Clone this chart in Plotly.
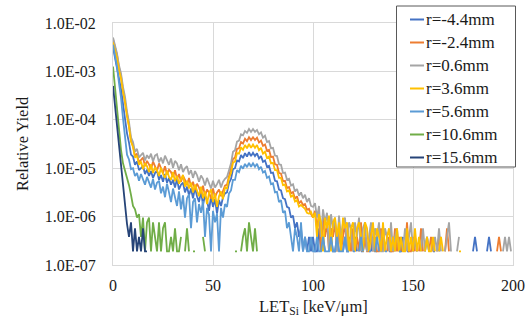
import plotly.graph_objects as go

N = None

# LET_Si [keV/um], one bin per unit
let_si = list(range(0, 201))

# log10(Relative Yield); None = empty bin (no point on log axis)
r_m44_log = [
    -2.50, -2.70, -2.88, -3.15, -3.36, -3.67, -3.92, -4.28, -4.47, -4.72,
    -4.76, -4.93, -4.86, -5.04, -5.00, -4.95, -5.12, -5.03, -5.16, -5.06,
    -5.20, -5.10, -5.05, -5.24, -5.14, -5.28, -5.12, -5.30, -5.20, -5.34,
    -5.24, -5.40, -5.22, -5.44, -5.34, -5.30, -5.50, -5.38, -5.56, -5.42,
    -5.62, -5.40, -5.58, -5.70, -5.48, -5.76, -5.56, -5.66, -5.88, -5.58,
    -5.80, -5.64, -5.94, -5.66, -5.78, -5.60, -5.52, -5.50, -5.30, -5.22,
    -5.02, -5.00, -4.84, -4.86, -4.73, -4.79, -4.69, -4.76, -4.67, -4.75,
    -4.68, -4.75, -4.69, -4.80, -4.75, -4.87, -4.84, -4.97, -4.95, -5.10,
    -5.09, -5.26, -5.27, -5.44, -5.46, -5.62, -5.64, -5.80, -5.82, -6.02,
    -5.98, -6.24, -6.12, -6.42, -6.24, -6.72, -6.42, -6.72, -6.42, -6.72,
    -6.42, -6.72, -6.72, -6.24, -6.72, -6.42, -6.72, N, -6.72, -6.42,
    -6.72, -6.72, -6.42, -6.72, N, -6.72, -6.42, -6.72, -6.72, N,
    -6.72, -6.42, -6.72, N, -6.72, -6.72, -6.42, -6.72, N, -6.72,
    -6.42, -6.72, -6.72, N, -6.72, -6.42, -6.72, N, -6.72, -6.72,
    -6.42, -6.72, N, -6.72, -6.72, -6.42, N, -6.72, -6.72, N,
    -6.72, -6.42, -6.72, N, -6.72, N, -6.72, -6.42, -6.72, N,
    -6.72, -6.72, N, -6.72, -6.42, N, N, -6.72, N, N,
    N, N, N, N, N, N, N, N, N, N,
    -6.72, -6.42, -6.72, N, N, N, N, -6.72, -6.42, -6.72,
    N, N, N, N, N, N, N, N, N, N,
    N,
]

r_m24_log = [
    -2.33, -2.50, -2.66, -2.92, -3.10, -3.38, -3.60, -3.90, -4.12, -4.43,
    -4.54, -4.75, -4.70, -4.88, -4.82, -4.78, -4.96, -4.85, -4.92, -5.02,
    -4.86, -4.97, -5.06, -4.90, -5.02, -5.10, -4.96, -5.13, -5.03, -5.08,
    -5.18, -5.04, -5.22, -5.12, -5.28, -5.16, -5.24, -5.35, -5.20, -5.38,
    -5.28, -5.45, -5.32, -5.40, -5.52, -5.36, -5.58, -5.44, -5.50, -5.63,
    -5.42, -5.60, -5.50, -5.44, -5.58, -5.46, -5.36, -5.34, -5.16, -5.04,
    -4.81, -4.78, -4.60, -4.59, -4.46, -4.49, -4.39, -4.44, -4.36, -4.42,
    -4.36, -4.42, -4.37, -4.47, -4.43, -4.54, -4.51, -4.64, -4.62, -4.77,
    -4.76, -4.92, -4.93, -5.10, -5.11, -5.27, -5.26, -5.41, -5.39, -5.52,
    -5.49, -5.63, -5.58, -5.73, -5.68, -5.76, -5.74, -5.86, -5.84, -5.95,
    -6.02, -5.88, -6.24, -5.95, -6.72, -6.02, -6.42, -6.12, -6.72, -6.24,
    -6.42, -6.12, -6.72, -6.24, -6.72, -6.42, -6.12, -6.72, -6.42, -6.72,
    -6.24, -6.72, -6.42, -6.72, -6.12, -6.72, -6.42, -6.72, -6.72, -6.24,
    -6.72, -6.42, -6.72, -6.72, -6.24, -6.72, N, -6.72, -6.42, -6.72,
    -6.72, -6.24, -6.72, -6.42, -6.72, N, -6.72, -6.12, -6.72, -6.72,
    -6.42, -6.72, N, -6.72, -6.24, -6.72, N, N, -6.72, -6.42,
    -6.72, N, -6.72, -6.42, N, N, -6.72, -6.24, -6.72, N,
    N, N, N, N, N, N, N, N, N, N,
    N, N, N, N, N, N, N, N, N, N,
    N, N, -6.72, -6.42, -6.72, N, N, N, N, N,
    N,
]

r_06_log = [
    -2.30, -2.47, -2.63, -2.88, -3.04, -3.32, -3.52, -3.83, -4.05, -4.36,
    -4.46, -4.66, -4.60, -4.78, -4.72, -4.68, -4.84, -4.73, -4.80, -4.70,
    -4.86, -4.74, -4.71, -4.88, -4.78, -4.90, -4.74, -4.84, -4.93, -4.80,
    -4.99, -4.85, -4.90, -5.04, -4.92, -5.08, -5.00, -4.96, -5.13, -5.04,
    -5.20, -5.06, -5.14, -5.28, -5.15, -5.22, -5.36, -5.20, -5.32, -5.42,
    -5.26, -5.40, -5.33, -5.24, -5.40, -5.28, -5.22, -5.18, -5.04, -4.90,
    -4.66, -4.63, -4.45, -4.43, -4.30, -4.32, -4.23, -4.27, -4.19, -4.25,
    -4.19, -4.25, -4.21, -4.30, -4.26, -4.37, -4.33, -4.46, -4.44, -4.59,
    -4.58, -4.74, -4.75, -4.92, -4.93, -5.10, -5.09, -5.24, -5.22, -5.36,
    -5.33, -5.48, -5.43, -5.57, -5.50, -5.62, -5.55, -5.70, -5.62, -5.78,
    -5.80, -5.72, -6.02, -5.78, -6.42, -5.85, -6.12, -5.92, -6.72, -5.95,
    -6.24, -6.02, -6.72, -5.98, -6.42, -6.12, -6.02, -6.72, -6.12, -6.24,
    -6.72, -6.12, -6.42, -6.02, -6.72, -6.24, -6.12, -6.72, -6.42, -6.12,
    -6.72, -6.24, -6.42, -6.12, -6.72, -6.72, -6.24, -6.42, -6.72, -6.12,
    -6.72, -6.42, -6.24, -6.72, -6.42, -6.72, -6.24, -6.72, -6.42, -6.12,
    -6.72, -6.42, -6.72, N, -6.72, -6.24, -6.72, -6.42, -6.72, N,
    -6.72, -6.42, -6.72, -6.24, -6.72, N, -6.72, -6.42, -6.12, -6.72,
    N, N, -6.72, -6.42, N, N, N, N, N, N,
    N, N, N, N, N, N, N, N, N, N,
    N, N, N, N, N, -6.72, -6.42, -6.72, -6.42, -6.72,
    N,
]

r_36_log = [
    -2.40, -2.57, -2.72, -2.97, -3.14, -3.42, -3.63, -3.93, -4.14, -4.45,
    -4.56, -4.78, -4.74, -4.93, -4.86, -5.02, -4.90, -4.96, -5.08, -4.92,
    -5.10, -4.98, -5.04, -5.16, -4.99, -5.12, -5.20, -5.05, -5.18, -5.24,
    -5.08, -5.27, -5.16, -5.32, -5.22, -5.14, -5.38, -5.26, -5.42, -5.30,
    -5.50, -5.34, -5.46, -5.58, -5.38, -5.62, -5.48, -5.74, -5.52, -5.44,
    -5.70, -5.52, -5.80, -5.58, -5.48, -5.64, -5.40, -5.42, -5.20, -5.10,
    -4.89, -4.86, -4.69, -4.70, -4.57, -4.62, -4.52, -4.59, -4.50, -4.58,
    -4.51, -4.58, -4.52, -4.63, -4.58, -4.70, -4.66, -4.79, -4.76, -4.90,
    -4.89, -5.04, -5.04, -5.20, -5.20, -5.35, -5.34, -5.48, -5.46, -5.59,
    -5.56, -5.69, -5.66, -5.79, -5.76, -5.80, -5.84, -5.92, -5.94, -5.90,
    -6.02, -5.92, -6.42, -5.95, -6.12, -6.72, -6.02, -6.24, -5.98, -6.72,
    -6.12, -6.02, -6.42, -6.12, -6.72, -6.02, -6.24, -6.12, -6.72, -6.24,
    -6.12, -6.72, -6.24, -6.12, -6.42, -6.72, -6.12, -6.24, -6.72, -6.42,
    -6.12, -6.72, -6.24, -6.42, -6.72, -6.12, -6.72, -6.42, -6.24, -6.72,
    -6.42, -6.72, -6.24, -6.72, -6.42, -6.72, -6.72, -6.24, -6.72, -6.42,
    -6.72, -6.24, -6.72, -6.42, -6.72, N, -6.72, -6.42, -6.72, -6.72,
    -6.42, -6.72, N, -6.72, -6.42, -6.72, N, -6.72, N, N,
    N, N, N, -6.72, -6.72, N, N, N, N, N,
    N, N, N, N, N, N, N, N, N, N,
    N, N, N, N, N, N, N, N, N, N,
    N,
]

r_56_log = [
    -2.45, -2.68, -2.90, -3.24, -3.54, -3.97, -4.36, -4.72, -4.82, -5.02,
    -5.00, -5.16, -5.10, -5.26, -5.12, -5.22, -5.34, -5.18, -5.30, -5.40,
    -5.22, -5.44, -5.30, -5.26, -5.52, -5.38, -5.60, -5.32, -5.50, -5.70,
    -5.42, -5.64, -5.78, -5.48, -5.85, -5.56, -6.02, -5.62, -5.54, -6.24,
    -5.70, -5.62, -6.12, -5.74, -5.92, -5.68, -6.42, -5.82, -5.96, -6.72,
    -5.88, -6.12, -5.94, -6.72, -5.82, -6.02, -5.74, -5.80, -5.52, -5.46,
    -5.24, -5.24, -5.04, -5.08, -4.95, -5.01, -4.91, -4.98, -4.89, -4.97,
    -4.90, -4.97, -4.91, -5.02, -4.97, -5.09, -5.06, -5.20, -5.17, -5.33,
    -5.31, -5.50, -5.49, -5.70, -5.66, -5.92, -5.88, -6.24, -6.12, -6.42,
    -6.72, -6.24, -6.42, -6.72, -6.12, -6.72, -6.42, -6.72, -6.72, -6.42,
    -6.72, -6.72, -6.42, -6.72, -6.72, -6.42, -6.72, -6.72, -6.72, -6.42,
    -6.72, -6.72, -6.42, -6.72, -6.72, -6.72, -6.42, -6.72, -6.72, N,
    -6.72, -6.72, N, -6.72, -6.42, -6.72, N, N, -6.72, -6.72,
    N, -6.72, -6.42, -6.72, N, N, -6.72, -6.72, N, N,
    -6.72, N, N, -6.72, -6.72, N, N, N, -6.72, N,
    N, N, N, N, N, N, N, N, N, N,
    N, N, N, N, N, N, N, N, N, N,
    N, N, N, N, N, N, N, N, N, N,
    N, N, N, N, N, N, N, N, N, N,
    N, N, N, N, N, N, N, N, N, N,
    N,
]

r_106_log = [
    -2.90, -3.35, -3.80, -4.25, -4.62, -4.90, -5.05, -5.15, -5.35, -5.55,
    -5.78, -5.85, -6.02, -5.95, -6.42, -6.02, -6.72, -6.12, -6.02, -6.72,
    -6.12, -6.42, -6.72, -6.12, -6.72, -6.24, -6.12, -6.72, -6.72, -6.42,
    -6.72, -6.24, -6.72, -6.72, -6.42, N, -6.72, -6.24, -6.72, N,
    -6.72, -6.72, N, -6.72, N, -6.42, -6.72, N, -6.72, N,
    N, -6.72, N, N, N, N, N, -6.72, N, N,
    N, -6.72, -6.72, N, -6.72, -6.42, -6.24, -6.72, -6.12, -6.42,
    -6.72, -6.24, -6.72, N, -6.72, N, -6.72, N, N, -6.72,
    N, -6.72, N, N, N, -6.72, N, N, N, N,
    N, N, N, N, N, N, N, N, N, N,
    N, N, N, -6.72, N, N, N, N, N, N,
    N, N, N, N, N, N, N, N, N, N,
    N, N, N, N, N, N, N, N, N, N,
    N, N, N, N, N, N, N, N, N, N,
    N, N, N, N, N, N, N, N, N, N,
    N, N, N, N, N, N, N, N, N, N,
    N, N, N, N, N, N, N, N, N, N,
    N, N, N, N, N, N, N, N, N, N,
    N, N, N, N, N, N, N, N, N, N,
    N, N, N, N, N, N, N, N, N, N,
    N,
]

r_156_log = [
    -3.30, -3.70, -4.10, -4.50, -4.95, -5.40, -5.85, -6.15, -6.42, -6.12,
    -6.72, -6.24, -6.72, -6.42, -6.72, -6.24, -6.72, -6.72, N, -6.72,
    N, -6.72, N,
] + [N] * 178

series_names = ["r=-4.4mm", "r=-2.4mm", "r=0.6mm", "r=3.6mm", "r=5.6mm", "r=10.6mm", "r=15.6mm"]
series_logs = [r_m44_log, r_m24_log, r_06_log, r_36_log, r_56_log, r_106_log, r_156_log]
series_colors = ["#4472C4", "#ED7D31", "#A5A5A5", "#FFC000", "#5B9BD5", "#70AD47", "#264478"]

y_tick_vals = [1e-7, 1e-6, 1e-5, 1e-4, 1e-3, 1e-2]
y_tick_text = ["1.0E-07", "1.0E-06", "1.0E-05", "1.0E-04", "1.0E-03", "1.0E-02"]
x_tick_vals = [0, 50, 100, 150, 200]

FONT = "Liberation Serif, Times New Roman, serif"
TXT = "#1a1a1a"

W, H = 528, 324
ML, MR, MT, MB = 113, 15, 23, 59
PW, PH = W - ML - MR, H - MT - MB


def px_x(p):
    return (p - ML) / PW


def px_y(p):
    return (H - MB - p) / PH


fig = go.Figure()
for name, logs, color in zip(series_names, series_logs, series_colors):
    yv = [None if v is None else 10 ** v for v in logs]
    fig.add_trace(go.Scatter(
        x=let_si, y=yv, name=name, mode="lines", showlegend=False,
        line=dict(color=color, width=1.8), connectgaps=False,
    ))

# legend box drawn by hand (Excel style)
shapes = [dict(type="rect", xref="paper", yref="paper",
               x0=px_x(396.5), x1=px_x(515.5), y0=px_y(167), y1=px_y(6),
               fillcolor="white", line=dict(color="#595959", width=1), layer="above")]
annotations = []
for i, (name, color) in enumerate(zip(series_names, series_colors)):
    yc = 19.5 + 23 * i
    shapes.append(dict(type="line", xref="paper", yref="paper",
                       x0=px_x(410), x1=px_x(424), y0=px_y(yc), y1=px_y(yc),
                       line=dict(color=color, width=2), layer="above"))
    annotations.append(dict(text=name, xref="paper", yref="paper",
                            x=px_x(424), y=px_y(yc), xanchor="left", yanchor="middle",
                            showarrow=False, font=dict(family=FONT, size=17, color=TXT)))

annotations += [
    dict(text="Relative Yield", xref="paper", yref="paper", x=px_x(22), y=0.5,
         textangle=-90, showarrow=False, font=dict(family=FONT, size=16.5, color=TXT),
         xanchor="center", yanchor="middle"),
    dict(text="LET<sub>Si</sub> [keV/μm]", xref="paper", yref="paper", x=0.5, y=px_y(307),
         showarrow=False, font=dict(family=FONT, size=16.5, color=TXT),
         xanchor="center", yanchor="middle"),
]

fig.update_layout(
    width=W, height=H,
    margin=dict(l=ML, r=MR, t=MT, b=MB, autoexpand=False),
    paper_bgcolor="white", plot_bgcolor="white",
    font=dict(family=FONT, size=16, color=TXT),
    showlegend=False,
    hovermode=False,
    shapes=shapes,
    annotations=annotations,
)

fig.update_xaxes(
    range=[0, 200], tickvals=x_tick_vals, showgrid=True, gridcolor="#D9D9D9",
    gridwidth=1, zeroline=False, showline=True, linecolor="#D9D9D9", mirror=True,
    ticks="", ticklabelstandoff=6, automargin=False,
    tickfont=dict(family=FONT, size=16, color=TXT),
)
fig.update_yaxes(
    type="log", range=[-7, -2], tickvals=y_tick_vals, ticktext=y_tick_text,
    showgrid=True, gridcolor="#D9D9D9", gridwidth=1, zeroline=False,
    showline=True, linecolor="#D9D9D9", mirror=True, automargin=False,
    ticks="", ticklabelstandoff=13, tickfont=dict(family=FONT, size=16, color=TXT),
)

fig.write_html("out.html", config={"displayModeBar": False},
               post_script="document.body.style.margin='0';")
